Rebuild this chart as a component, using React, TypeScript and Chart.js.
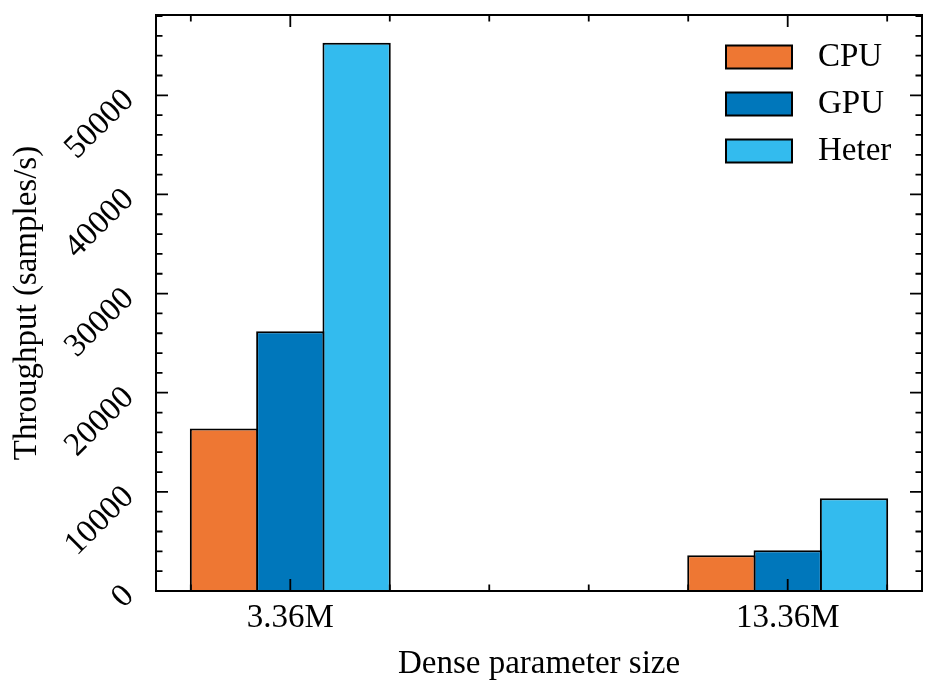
import { useEffect, useRef } from "react";
import { Chart, registerables } from "chart.js";

Chart.register(...registerables);

// Data
const categories = ["3.36M", "13.36M"];
const categoryPositions = [0, 1];
const seriesNames = ["CPU", "GPU", "Heter"];
const cpuThroughput = [16400, 3600];
const gpuThroughput = [26200, 4100];
const heterThroughput = [55300, 9350];
const seriesColors = ["#EE7733", "#0077BB", "#33BBEE"];

const yTicks = [0, 10000, 20000, 30000, 40000, 50000];
const yMinorStep = 2000;
const yMax = 58100;
const xMin = -0.27;
const xMax = 1.27;
const xMinorTicks = [-0.2, 0.2, 0.4, 0.6, 0.8, 1.2];

const FONT = "'Liberation Serif', 'Times New Roman', Times, serif";
const FONT_SIZE = 33;

// inward ticks on all four sides, the frame and the legend inside the axes
const axesFrame = {
  id: "axesFrame",
  afterDatasetsDraw(chart: Chart) {
    const { ctx, chartArea: a } = chart;
    const xs = chart.scales.x;
    const ys = chart.scales.y;
    const major = 12;
    const minor = 6.5;

    ctx.save();
    ctx.strokeStyle = "#000";
    ctx.lineWidth = 1.8;
    ctx.beginPath();
    const tickX = (v: number, len: number) => {
      const px = xs.getPixelForValue(v);
      ctx.moveTo(px, a.bottom);
      ctx.lineTo(px, a.bottom - len);
      ctx.moveTo(px, a.top);
      ctx.lineTo(px, a.top + len);
    };
    const tickY = (v: number, len: number) => {
      const py = ys.getPixelForValue(v);
      ctx.moveTo(a.left, py);
      ctx.lineTo(a.left + len, py);
      ctx.moveTo(a.right, py);
      ctx.lineTo(a.right - len, py);
    };
    categoryPositions.forEach((v) => tickX(v, major));
    xMinorTicks.forEach((v) => tickX(v, minor));
    yTicks.forEach((v) => tickY(v, major));
    for (let v = yMinorStep; v < yMax; v += yMinorStep) {
      if (v % 10000 !== 0) tickY(v, minor);
    }
    ctx.stroke();

    ctx.lineWidth = 2;
    ctx.strokeRect(a.left, a.top, a.right - a.left, a.bottom - a.top);

    // legend
    ctx.font = `${FONT_SIZE}px ${FONT}`;
    ctx.textBaseline = "middle";
    ctx.textAlign = "left";
    chart.data.datasets.forEach((ds, i) => {
      const cy = a.top + 42 + i * 47;
      const bx = a.right - 196;
      ctx.fillStyle = ds.backgroundColor as string;
      ctx.fillRect(bx, cy - 11.5, 66, 23);
      ctx.lineWidth = 2;
      ctx.strokeRect(bx, cy - 11.5, 66, 23);
      ctx.fillStyle = "#000";
      ctx.fillText(ds.label ?? "", a.right - 104, cy);
    });
    ctx.restore();
  },
};

export default function App() {
  const chartRef = useRef<HTMLCanvasElement>(null);
  const chartInstance = useRef<Chart | null>(null);

  useEffect(() => {
    if (!chartRef.current) return;
    if (chartInstance.current) chartInstance.current.destroy();

    const series = [cpuThroughput, gpuThroughput, heterThroughput];

    chartInstance.current = new Chart(chartRef.current, {
      type: "bar",
      data: {
        datasets: series.map((values, i) => ({
          label: seriesNames[i],
          data: values.map((y, j) => ({ x: categoryPositions[j], y })),
          backgroundColor: seriesColors[i],
          borderColor: "#000",
          borderWidth: 2,
          barPercentage: 1.03,
          categoryPercentage: 0.4,
        })),
      },
      options: {
        responsive: false,
        animation: false,
        events: [],
        layout: { padding: { left: 0, right: 15, top: 15, bottom: 0 } },
        font: { family: FONT, size: FONT_SIZE },
        color: "#000",
        scales: {
          x: {
            type: "linear",
            min: xMin,
            max: xMax,
            offset: false,
            grid: { display: false, drawTicks: false },
            border: { display: false },
            afterBuildTicks: (scale: any) => {
              scale.ticks = categoryPositions.map((v) => ({ value: v }));
            },
            afterFit: (scale: any) => {
              scale.height = 107;
              scale.paddingLeft = 0;
              scale.paddingRight = 0;
            },
            ticks: {
              autoSkip: false,
              maxRotation: 0,
              padding: 8,
              color: "#000",
              font: { family: FONT, size: FONT_SIZE },
              callback: (_v: any, index: number) => categories[index],
            },
            title: {
              display: true,
              text: "Dense parameter size",
              color: "#000",
              font: { family: FONT, size: FONT_SIZE },
              padding: { top: 0, bottom: 14 },
            },
          },
          y: {
            type: "linear",
            min: 0,
            max: yMax,
            grid: { display: false, drawTicks: false },
            border: { display: false },
            afterBuildTicks: (scale: any) => {
              scale.ticks = yTicks.map((v) => ({ value: v }));
            },
            afterFit: (scale: any) => {
              scale.width = 156;
              scale.paddingTop = 0;
              scale.paddingBottom = 0;
            },
            ticks: {
              autoSkip: false,
              minRotation: 45,
              maxRotation: 45,
              padding: 27,
              color: "#000",
              font: { family: FONT, size: FONT_SIZE },
              callback: (v: any) => String(v),
            },
            title: {
              display: true,
              text: "Throughput (samples/s)",
              color: "#000",
              font: { family: FONT, size: FONT_SIZE },
              padding: { top: 8, bottom: 0 },
            },
          },
        },
        plugins: {
          legend: { display: false },
          tooltip: { enabled: false },
        },
      },
      plugins: [axesFrame],
    });

    return () => {
      if (chartInstance.current) {
        chartInstance.current.destroy();
        chartInstance.current = null;
      }
    };
  }, []);

  return (
    <div style={{ position: "fixed", left: 0, top: 0, width: 937, height: 698, background: "#fff" }}>
      <canvas ref={chartRef} width={937} height={698} style={{ display: "block" }} />
    </div>
  );
}
